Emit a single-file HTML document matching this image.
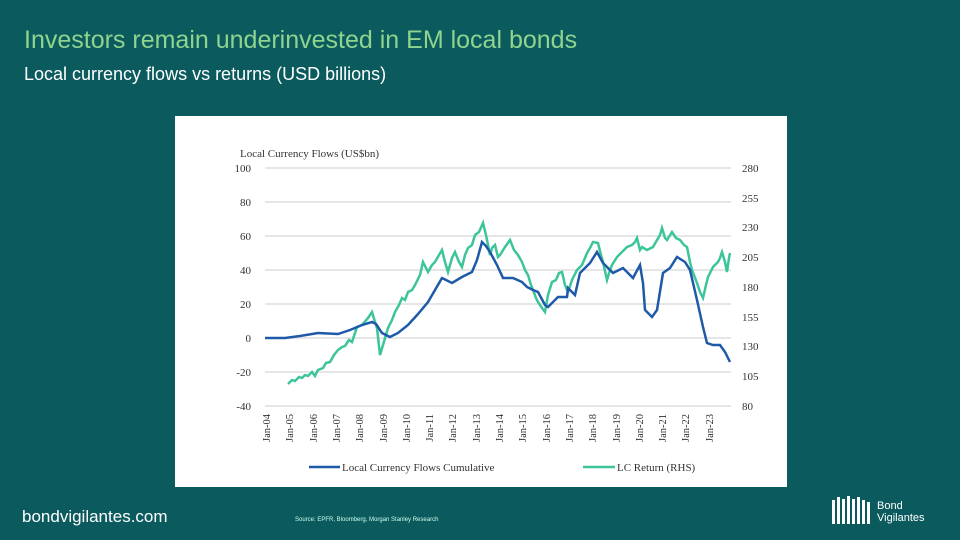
<!DOCTYPE html>
<html><head><meta charset="utf-8"><style>
body{margin:0;width:960px;height:540px;background:#0b5a5e;overflow:hidden;font-family:"Liberation Sans",sans-serif;position:relative}
.t1{position:absolute;left:24px;top:26px;font-size:25px;color:#8fd48e}
.t2{position:absolute;left:24px;top:64px;font-size:18px;color:#fff}
.box{position:absolute;left:175px;top:116px;width:612px;height:371px;background:#fff}
.f1{position:absolute;left:22px;top:507px;font-size:17px;color:#fff}
.f2{position:absolute;left:295px;top:517px;font-size:6px;color:#cfe}
.f3{position:absolute;left:877px;top:500px;font-size:11px;color:#fff;line-height:12px}
</style></head><body>
<div class="t1">Investors remain underinvested in EM local bonds</div>
<div class="t2">Local currency flows vs returns (USD billions)</div>
<div class="box"></div>
<svg width="960" height="540" style="position:absolute;left:0;top:0" font-family="Liberation Serif,serif" font-size="11" fill="#333">
<g stroke="#ddd" stroke-width="1.5">
<line x1="265" y1="168" x2="731" y2="168"/><line x1="265" y1="202" x2="731" y2="202"/><line x1="265" y1="236" x2="731" y2="236"/><line x1="265" y1="270" x2="731" y2="270"/><line x1="265" y1="304" x2="731" y2="304"/><line x1="265" y1="338" x2="731" y2="338"/><line x1="265" y1="372" x2="731" y2="372"/><line x1="265" y1="406" x2="731" y2="406"/>
</g>
<text x="240" y="157" font-size="11">Local Currency Flows  (US$bn)</text>
<g text-anchor="end"><text x="251" y="172">100</text><text x="251" y="206">80</text><text x="251" y="240">60</text><text x="251" y="274">40</text><text x="251" y="308">20</text><text x="251" y="342">0</text><text x="251" y="376">-20</text><text x="251" y="410">-40</text></g>
<g><text x="742" y="172">280</text><text x="742" y="202">255</text><text x="742" y="231">230</text><text x="742" y="261">205</text><text x="742" y="291">180</text><text x="742" y="321">155</text><text x="742" y="350">130</text><text x="742" y="380">105</text><text x="742" y="410">80</text></g>
<g font-size="10.5" text-anchor="end">
<text transform="translate(270,414) rotate(-90)">Jan-04</text><text transform="translate(293,414) rotate(-90)">Jan-05</text><text transform="translate(317,414) rotate(-90)">Jan-06</text><text transform="translate(340,414) rotate(-90)">Jan-07</text><text transform="translate(363,414) rotate(-90)">Jan-08</text><text transform="translate(387,414) rotate(-90)">Jan-09</text><text transform="translate(410,414) rotate(-90)">Jan-10</text><text transform="translate(433,414) rotate(-90)">Jan-11</text><text transform="translate(456,414) rotate(-90)">Jan-12</text><text transform="translate(480,414) rotate(-90)">Jan-13</text><text transform="translate(503,414) rotate(-90)">Jan-14</text><text transform="translate(526,414) rotate(-90)">Jan-15</text><text transform="translate(550,414) rotate(-90)">Jan-16</text><text transform="translate(573,414) rotate(-90)">Jan-17</text><text transform="translate(596,414) rotate(-90)">Jan-18</text><text transform="translate(620,414) rotate(-90)">Jan-19</text><text transform="translate(643,414) rotate(-90)">Jan-20</text><text transform="translate(666,414) rotate(-90)">Jan-21</text><text transform="translate(689,414) rotate(-90)">Jan-22</text><text transform="translate(713,414) rotate(-90)">Jan-23</text>
</g>
<polyline fill="none" stroke="#3cc49a" stroke-width="2.5" points="288,384 292,380 295,381 299,377 302,378 305,375 308,376 312,372 315,376 318,370 323,368 326,363 330,362 334,355 338,350 342,347 345,346 349,340 352,342 357,327 362,325 368,318 372,312 375,322 377,328 380,355 383,345 388,328 392,320 395,312 399,305 402,298 405,300 408,292 412,290 415,285 420,275 423,262 426,268 428,272 432,265 435,262 439,255 442,250 445,262 448,272 452,258 455,252 459,262 462,267 465,255 468,248 472,245 475,235 479,232 483,223 486,235 487,240 490,255 492,248 495,245 498,257 500,255 505,247 510,240 514,250 518,255 522,262 525,270 528,275 531,285 533,290 536,298 538,302 542,308 545,312 548,295 552,282 556,280 559,273 562,272 565,285 568,292 572,280 577,270 582,265 585,258 587,253 590,248 593,242 598,243 601,255 603,262 607,280 610,270 612,265 617,257 622,252 627,247 632,245 635,242 637,238 640,250 642,247 647,250 653,247 657,240 660,235 662,228 665,238 667,240 672,232 676,238 680,240 684,245 687,247 690,262 692,270 697,283 700,292 703,298 706,285 708,277 713,267 718,262 720,258 722,252 725,262 727,272 729,258 730,253"/>
<polyline fill="none" stroke="#1f5aa8" stroke-width="2.5" points="265,338 285,338 300,336 318,333 338,334 350,330 362,325 372,322 376,324 382,333 390,337 398,333 408,325 418,314 428,302 435,290 442,278 452,283 462,277 472,272 477,260 482,242 486,246 490,252 497,265 503,278 513,278 522,282 527,287 533,290 538,292 545,305 548,307 553,302 558,297 567,297 568,288 575,295 580,273 590,263 597,252 603,263 613,273 623,268 633,278 640,265 643,283 645,310 652,317 657,310 663,273 670,268 677,257 685,262 690,270 697,300 703,327 707,343 713,345 720,345 725,352 730,362"/>
<line x1="309" y1="467" x2="340" y2="467" stroke="#1f5aa8" stroke-width="2.5"/>
<text x="342" y="471">Local Currency Flows  Cumulative</text>
<line x1="583" y1="467" x2="615" y2="467" stroke="#3cc49a" stroke-width="2.5"/>
<text x="617" y="471">LC Return (RHS)</text>
<g fill="#fff"><rect x="832" y="500" width="3" height="24"/><rect x="837" y="497" width="3" height="27"/><rect x="842" y="499" width="3" height="25"/><rect x="847" y="496" width="3" height="28"/><rect x="852" y="499" width="3" height="25"/><rect x="857" y="497" width="3" height="27"/><rect x="862" y="500" width="3" height="24"/><rect x="867" y="502" width="3" height="22"/></g>
</svg>
<div class="f1">bondvigilantes.com</div>
<div class="f2">Source: EPFR, Bloomberg, Morgan Stanley Research</div>
<div class="f3">Bond<br>Vigilantes</div>
</body></html>
